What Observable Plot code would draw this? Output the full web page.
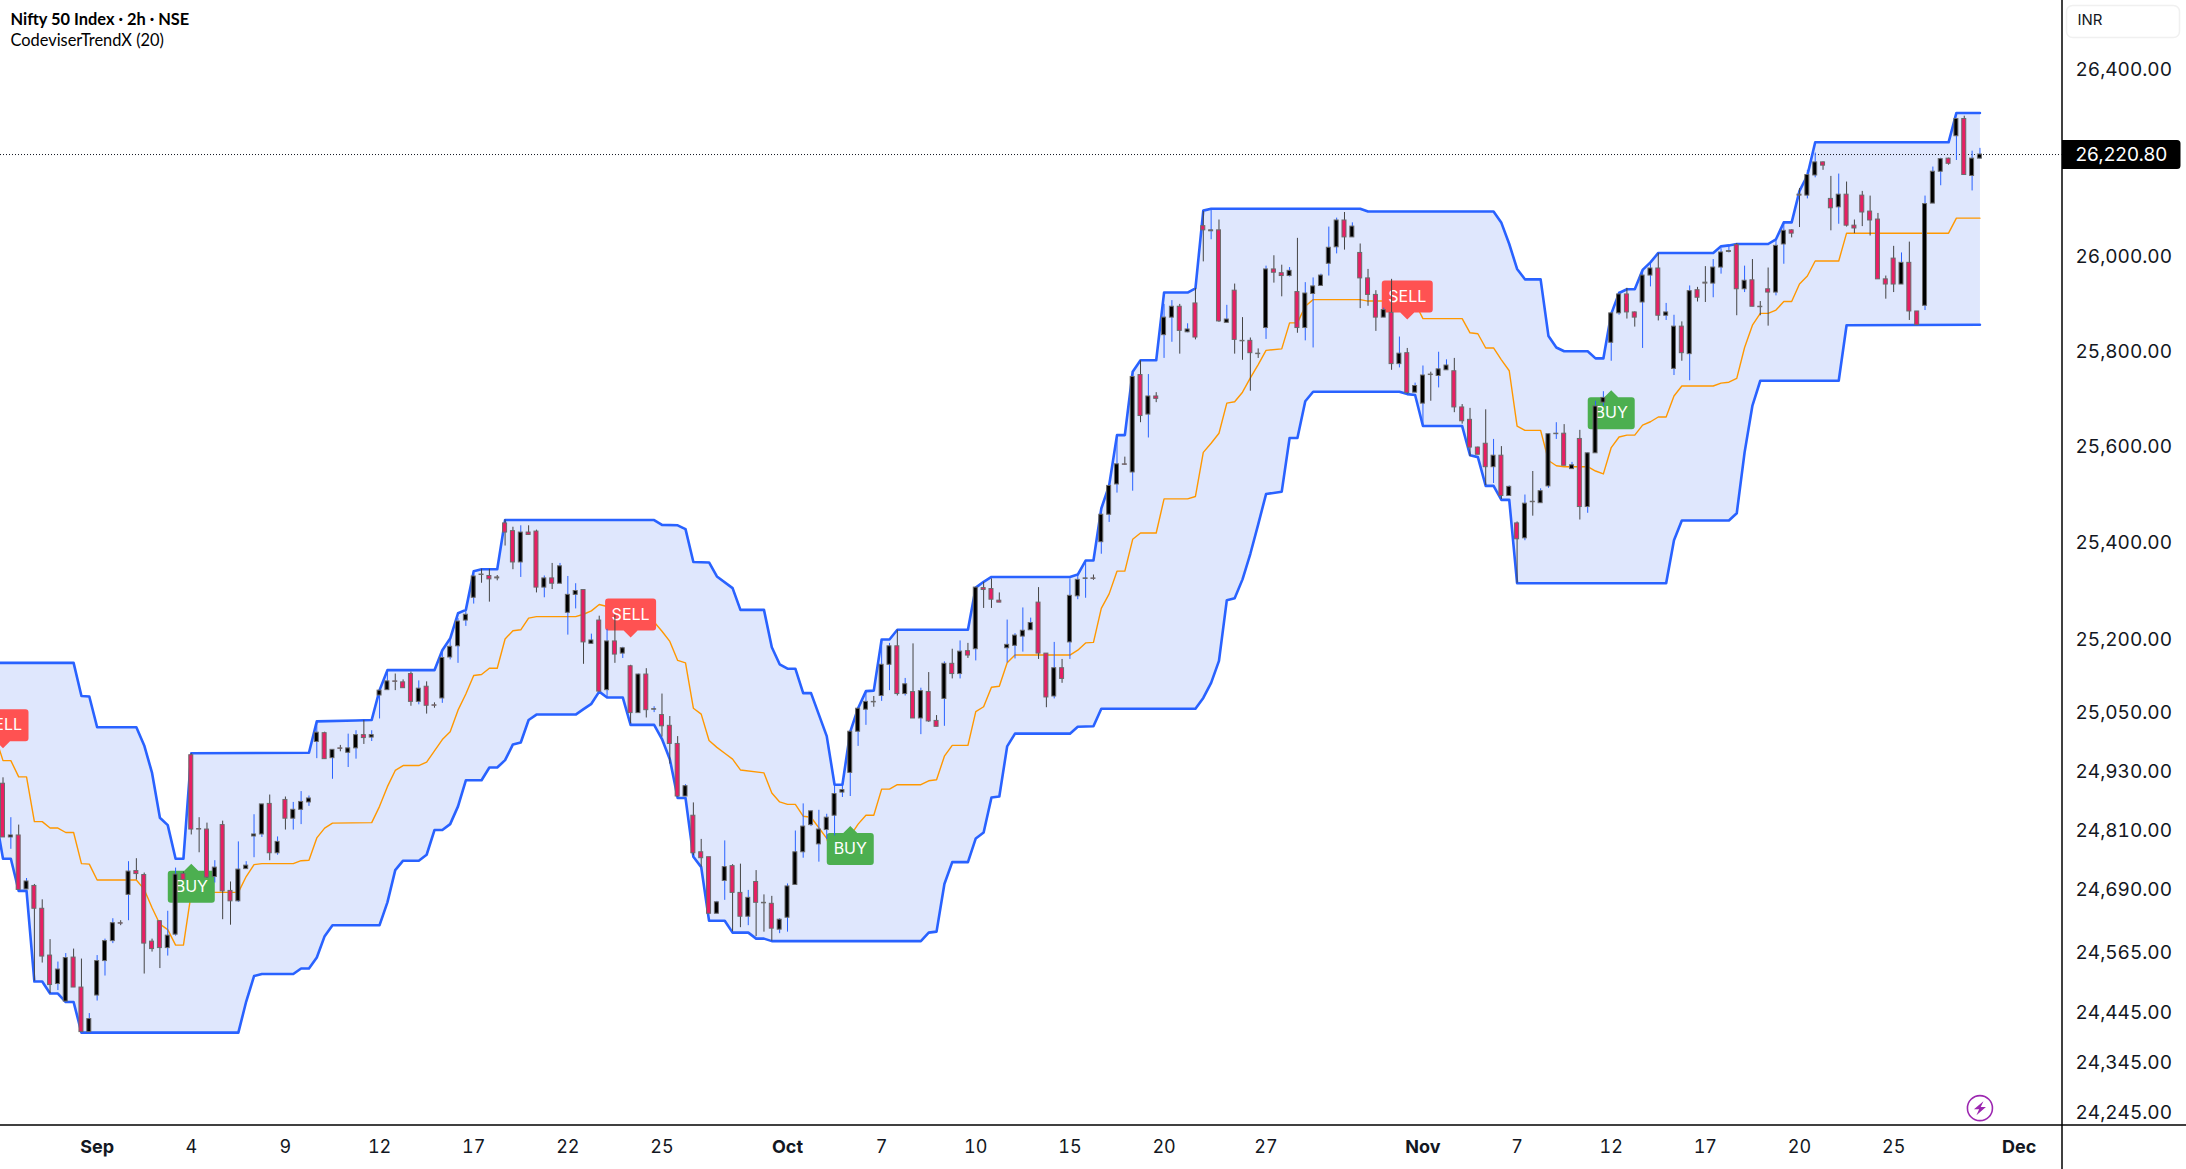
<!DOCTYPE html>
<html>
<head>
<meta charset="utf-8">
<title>Nifty 50 Index</title>
<script src="https://cdn.jsdelivr.net/npm/d3@7"></script>
<script src="https://cdn.jsdelivr.net/npm/@observablehq/plot@0.6"></script>
<style>
html,body{margin:0;padding:0;background:#fff;overflow:hidden}
svg{display:block}
</style>
</head>
<body>
<div id="chart"></div>
<script>
const titleText = "Nifty 50 Index · 2h · NSE";
const subtitleText = "CodeviserTrendX (20)";
const currency = "INR";
const lastPrice = 26220.8;
const priceTicks = [26400,26000,25800,25600,25400,25200,25050,24930,24810,24690,24565,24445,24345,24245];
const monthBars = [12,100,181,257];
const monthLabels = ["Sep","Oct","Nov","Dec"];
const dayBars = [24,36,48,60,72,84,112,124,136,148,161,193,205,217,229,241];
const dayLabels = ["4","9","12","17","22","25","7","10","15","20","27","7","12","17","20","25"];

const open = [
24908,24799,24803,24694,24701,24655,24561,24504,24469,24557,
24497,24408,24481,24550,24590,24626,24683,24731,24723,24589,
24630,24576,24603,24725,24966,24816,24815,24719,24824,24691,
24670,24735,24801,24805,24867,24767,24875,24837,24855,24870,
24993,25011,24960,24980,24971,24980,25007,25002,25088,25099,
25117,25115,25132,25075,25106,25068,25082,25166,25189,25242,
25289,25337,25334,25331,25443,25427,25362,25424,25426,25310,
25329,25318,25258,25295,25305,25194,25242,25099,25199,25174,
25148,25052,25131,25059,25048,25026,24989,24882,24843,24769,
24759,24645,24711,24741,24687,24639,24709,24667,24665,24613,
24637,24703,24769,24824,24785,24814,24843,24890,24930,25014,
25059,25075,25087,25151,25189,25091,25095,25041,25095,25036,
25081,25153,25132,25179,25183,25309,25307,25283,25185,25190,
25209,25222,25279,25174,25086,25144,25197,25292,25328,25329,
25404,25461,25524,25566,25549,25753,25670,25708,25837,25874,
25897,25843,25904,26068,26057,26059,25863,25931,25825,25825,
25798,25852,25976,25968,25962,25928,25852,25924,25941,25988,
26023,26080,26044,26011,25957,25922,25874,25884,25776,25799,
25716,25693,25754,25751,25763,25761,25685,25659,25601,25609,
25560,25584,25500,25443,25412,25488,25485,25520,25629,25630,
25556,25619,25477,25589,25695,25821,25883,25923,25885,25906,
25963,25978,25878,25766,25855,25797,25932,25948,25946,25980,
26013,26028,25934,25953,25897,25934,25927,26029,26059,26135,
26133,26176,26204,26126,26108,26135,26069,26133,26099,26082,
25955,25999,25944,25990,25887,25899,26116,26184,26212,26260,
26297,26175,26212];
const high = [
24920,24839,24824,24716,24704,24673,24593,24548,24565,24574,
24554,24445,24561,24594,24635,24631,24750,24756,24727,24594,
24631,24650,24737,24729,24969,24839,24828,24752,24832,24709,
24790,24750,24845,24866,24885,24800,24881,24870,24892,24883,
25035,25013,24977,24986,25009,25016,25037,25016,25101,25136,
25132,25120,25136,25118,25116,25073,25177,25204,25246,25265,
25337,25348,25348,25335,25450,25435,25438,25438,25429,25334,
25360,25360,25333,25318,25305,25214,25251,25224,25253,25187,
25150,25132,25143,25065,25091,25045,25004,24906,24869,24795,
24759,24670,24792,24744,24745,24692,24732,24683,24680,24635,
24705,24812,24867,24853,24854,24846,24906,24905,25014,25061,
25095,25086,25202,25195,25222,25123,25194,25103,25135,25047,
25157,25183,25200,25195,25310,25321,25328,25299,25243,25215,
25268,25247,25310,25174,25197,25162,25328,25335,25366,25336,
25474,25522,25623,25581,25756,25783,25754,25716,25902,25910,
25902,25861,25936,26099,26103,26081,25900,25945,25874,25831,
25808,25983,26005,25985,25980,26042,25948,25958,25966,26066,
26085,26097,26075,26030,25976,25931,25894,25955,25833,25809,
25736,25772,25759,25801,25785,25788,25691,25683,25602,25680,
25618,25603,25521,25446,25502,25551,25515,25630,25653,25649,
25570,25637,25590,25698,25718,25884,25928,25936,25886,25976,
25989,26010,25904,25879,25865,25941,25938,25982,25997,26020,
26025,26031,25983,25997,25908,25979,26038,26077,26060,26148,
26187,26224,26205,26174,26179,26162,26081,26142,26132,26095,
25962,26025,26011,26034,25887,26132,26194,26213,26213,26297,
26303,26228,26234];
const low = [
24799,24775,24693,24694,24510,24546,24485,24491,24469,24497,
24408,24408,24470,24520,24585,24621,24631,24713,24524,24568,
24535,24560,24600,24713,24804,24768,24716,24707,24633,24622,
24668,24735,24758,24799,24752,24763,24814,24814,24825,24862,
24959,24958,24917,24973,24941,24958,24988,24994,25040,25099,
25098,25103,25066,25069,25050,25062,25072,25161,25154,25230,
25276,25319,25280,25324,25396,25347,25331,25418,25299,25289,
25306,25318,25212,25266,25152,25193,25096,25084,25154,25164,
25030,25052,25042,25053,25003,24948,24881,24882,24762,24739,
24645,24645,24672,24609,24617,24621,24599,24608,24590,24605,
24608,24703,24757,24821,24749,24795,24802,24880,24882,24984,
25027,25064,25076,25098,25087,25087,25041,25008,25033,25024,
25025,25122,25122,25164,25159,25267,25267,25279,25155,25163,
25177,25222,25162,25063,25081,25113,25162,25285,25288,25325,
25379,25445,25506,25564,25510,25653,25621,25695,25788,25822,
25797,25842,25827,25992,26039,25864,25863,25797,25784,25719,
25788,25828,25947,25918,25960,25841,25825,25810,25941,25962,
26009,26017,26044,25893,25898,25845,25874,25763,25768,25713,
25716,25646,25698,25726,25763,25674,25650,25582,25586,25522,
25526,25493,25500,25319,25407,25458,25485,25516,25618,25563,
25556,25450,25464,25589,25687,25782,25879,25871,25854,25809,
25939,25867,25868,25752,25782,25741,25907,25906,25916,25966,
26011,25878,25927,25897,25878,25856,25920,25987,26043,26065,
26126,26171,26187,26058,26072,26066,26052,26067,26047,25955,
25913,25927,25944,25868,25858,25889,26116,26154,26198,26208,
26177,26143,26211];
const close = [
24799,24803,24693,24710,24655,24559,24502,24533,24556,24497,
24408,24434,24550,24590,24626,24625,24730,24725,24585,24574,
24576,24601,24724,24713,24815,24815,24718,24738,24690,24670,
24734,24742,24805,24866,24767,24790,24837,24855,24871,24878,
25012,24958,24977,24979,24980,25007,25001,25007,25098,25117,
25116,25103,25075,25102,25067,25067,25165,25188,25240,25254,
25333,25336,25327,25329,25424,25362,25424,25419,25310,25329,
25318,25354,25295,25303,25197,25201,25096,25199,25172,25185,
25052,25131,25058,25060,25025,24989,24882,24903,24767,24757,
24645,24668,24739,24687,24639,24677,24667,24666,24615,24633,
24700,24769,24821,24852,24815,24839,24887,24895,25014,25061,
25075,25074,25151,25189,25091,25111,25041,25097,25035,25024,
25153,25132,25178,25170,25310,25305,25285,25279,25192,25211,
25221,25237,25174,25084,25144,25122,25293,25326,25329,25328,
25461,25521,25566,25565,25749,25667,25708,25703,25874,25897,
25846,25849,25832,26059,26059,25866,25870,25827,25824,25799,
25797,25976,25969,25962,25973,25852,25925,25940,25963,26022,
26080,26044,26067,25957,25922,25874,25890,25776,25798,25715,
25730,25752,25753,25765,25773,25685,25656,25601,25586,25560,
25584,25500,25519,25410,25484,25487,25510,25629,25630,25563,
25564,25477,25589,25687,25705,25883,25923,25885,25874,25963,
25978,25878,25885,25855,25799,25930,25916,25946,25980,26012,
26015,25934,25952,25897,25896,25927,26026,26058,26052,26133,
26177,26204,26197,26106,26135,26069,26063,26097,26080,25955,
25944,25944,25990,25887,25858,26115,26184,26211,26201,26297,
26177,26212,26220.8];

const upperBars = [-1,9,10,11,12,17,18,19,20,21,22,23,24,39,40,45,47,48,49,55,56,57,58,59,60,61,63,64,83,84,86,87,88,90,91,93,94,97,98,99,100,101,102,103,105,106,107,108,109,110,111,112,113,114,123,124,125,126,136,137,138,139,140,141,142,143,144,145,147,148,151,152,153,154,173,174,190,191,192,193,194,196,197,198,199,202,203,204,205,206,207,208,209,210,211,218,219,220,221,225,226,227,228,229,230,231,248,249,252];
const upperValues = [25155,25155,25087,25086,25023,25023,24986,24930,24839,24824,24756,24756,24970,24971,25035,25037,25038,25099,25140,25140,25181,25205,25257,25264,25344,25348,25348,25450,25450,25440,25439,25431,25363,25362,25333,25309,25264,25264,25187,25152,25143,25143,25093,25093,25005,24906,24906,25014,25062,25097,25098,25203,25203,25223,25223,25310,25322,25332,25332,25337,25366,25366,25474,25522,25627,25627,25760,25784,25784,25927,25927,25936,26101,26105,26105,26099,26099,26075,26030,25977,25955,25955,25835,25811,25803,25803,25788,25788,25882,25926,25934,25934,25975,25991,26011,26011,26025,26027,26030,26030,26040,26076,26076,26143,26176,26247,26247,26310,26310];

const lowerBars = [-1,0,1,2,3,4,5,6,7,8,9,10,30,31,32,33,37,38,39,40,41,42,48,49,50,51,53,54,55,56,57,58,59,61,62,63,64,65,66,67,68,73,74,75,76,77,79,80,83,84,85,86,87,88,89,90,92,93,95,96,97,98,117,118,119,120,121,123,124,125,126,127,128,129,136,137,139,140,152,153,154,155,156,157,158,159,160,161,163,164,165,166,167,178,179,180,181,186,187,188,189,190,191,192,193,212,213,214,220,221,222,223,224,234,235,252];
const lowerValues = [24847,24756,24756,24691,24691,24509,24509,24485,24485,24468,24468,24407,24407,24469,24520,24524,24524,24535,24535,24557,24600,24622,24622,24668,24733,24752,24752,24764,24814,24814,24826,24862,24915,24915,24941,24941,24956,24988,24992,25038,25049,25049,25060,25071,25096,25084,25084,25028,25028,24999,24958,24879,24879,24760,24739,24631,24631,24607,24607,24595,24595,24590,24590,24607,24609,24705,24749,24749,24797,24809,24880,24882,24984,25010,25010,25024,25025,25061,25061,25083,25114,25159,25284,25288,25327,25380,25441,25504,25509,25621,25621,25698,25718,25718,25713,25711,25646,25646,25585,25581,25521,25521,25492,25492,25319,25319,25408,25449,25449,25464,25591,25689,25741,25741,25858,25859];

const midBars = [-1,0,1,2,3,4,5,6,7,8,9,10,11,12,17,18,19,20,21,22,23,24,25,30,31,32,33,37,38,39,40,41,42,47,48,49,50,51,53,54,55,56,57,58,59,60,61,62,63,64,65,66,67,68,73,74,75,76,77,79,80,83,84,85,86,87,88,89,90,91,92,93,94,97,98,99,100,101,102,103,105,106,107,108,109,110,111,112,113,114,117,118,119,120,121,123,124,125,126,127,128,129,136,137,138,139,140,141,142,143,144,145,147,148,151,152,153,154,155,156,157,158,159,160,161,163,164,165,166,167,173,174,178,179,180,181,186,187,188,189,190,191,192,193,194,196,197,198,199,202,203,204,205,206,207,208,209,210,211,212,213,214,218,219,220,221,222,223,224,225,226,227,228,229,230,231,234,235,248,249,252];
const midValues = [25005,24955,24955,24922,24922,24831,24831,24818,24818,24809,24809,24746,24745,24713,24713,24694,24657,24624,24613,24582,24582,24687,24688,24688,24720,24744,24746,24746,24752,24753,24798,24818,24828,24829,24862,24902,24935,24945,24945,24952,24975,24998,25014,25058,25091,25129,25131,25144,25144,25204,25221,25223,25247,25250,25250,25255,25262,25275,25271,25271,25239,25239,25220,25199,25160,25155,25062,25050,24996,24982,24970,24958,24936,24930,24889,24871,24866,24866,24842,24840,24797,24748,24748,24802,24826,24844,24844,24897,24897,24906,24906,24914,24916,24964,24986,24986,25055,25065,25105,25107,25155,25171,25171,25181,25196,25197,25267,25297,25344,25344,25410,25423,25423,25494,25494,25499,25591,25610,25631,25694,25697,25717,25747,25775,25805,25808,25863,25863,25898,25912,25912,25909,25909,25906,25905,25872,25872,25842,25840,25810,25810,25785,25762,25646,25637,25637,25574,25563,25561,25561,25552,25546,25601,25623,25627,25627,25648,25655,25665,25665,25709,25730,25730,25736,25738,25746,25811,25858,25883,25883,25890,25908,25908,25945,25962,25994,25994,26053,26053,26085,26085];

const sellBars = [0,80,179];
const sellPrices = [24980,25207,25870];
const buyBars = [24,108,205];
const buyPrices = [24746,24822,25721];
const iconBar = 252;
const iconPrice = 24257;

const candles = open.map((o,i)=>({bar:i,open:o,high:high[i],low:low[i],close:close[i],up:close[i]>=o}));
const knots = (bars,values)=>bars.map((b,i)=>({bar:b,value:values[i]}));
const upperLine = knots(upperBars,upperValues);
const lowerLine = knots(lowerBars,lowerValues);
const midLine = knots(midBars,midValues);
const bandPolygon = upperLine.concat(lowerLine.slice().reverse());

const roundRect=(c,x0,y0,x1,y1,r)=>{
  c.moveTo(x0+r,y0);c.lineTo(x1-r,y0);c.arcTo(x1,y0,x1,y0+r,r);
  c.lineTo(x1,y1-r);c.arcTo(x1,y1,x1-r,y1,r);
  c.lineTo(x0+r,y1);c.arcTo(x0,y1,x0,y1-r,r);
  c.lineTo(x0,y0+r);c.arcTo(x0,y0,x0+r,y0,r);c.closePath();
};
const sellSymbol={draw(c){
  c.moveTo(-22.5,-39);c.lineTo(22.5,-39);c.arcTo(25.5,-39,25.5,-36,3);
  c.lineTo(25.5,-10);c.arcTo(25.5,-7,22.5,-7,3);
  c.lineTo(7,-7);c.lineTo(0,0);c.lineTo(-7,-7);
  c.lineTo(-22.5,-7);c.arcTo(-25.5,-7,-25.5,-10,3);
  c.lineTo(-25.5,-36);c.arcTo(-25.5,-39,-22.5,-39,3);c.closePath();
}};
const buySymbol={draw(c){
  c.moveTo(-20.5,39);c.lineTo(20.5,39);c.arcTo(23.5,39,23.5,36,3);
  c.lineTo(23.5,10);c.arcTo(23.5,7,20.5,7,3);
  c.lineTo(7,7);c.lineTo(0,0);c.lineTo(-7,7);
  c.lineTo(-20.5,7);c.arcTo(-23.5,7,-23.5,10,3);
  c.lineTo(-23.5,36);c.arcTo(-23.5,39,-20.5,39,3);c.closePath();
}};
const priceBoxSymbol={draw(c){
  c.moveTo(0,-14.5);c.lineTo(115,-14.5);c.arcTo(118.5,-14.5,118.5,-11,3.5);
  c.lineTo(118.5,11);c.arcTo(118.5,14.5,115,14.5,3.5);c.lineTo(0,14.5);c.closePath();
}};
const inrSymbol={draw(c){roundRect(c,0,0,113,32,6);}};
const boltSymbol={draw(c){
  c.moveTo(3.5,-7);c.lineTo(-6,1.2);c.lineTo(-0.8,1.2);c.lineTo(-3.5,7);c.lineTo(6,-1.2);c.lineTo(0.8,-1.2);c.closePath();
}};

const sellData=sellBars.map((b,i)=>({bar:b,price:sellPrices[i]}));
const buyData=buyBars.map((b,i)=>({bar:b,price:buyPrices[i]}));
const axisEnd=262.46, pageEnd=278.4, pageTop=26553, pageBottom=24136, timeAxisPrice=24223.6;

const chart = Plot.plot({
  width:2186,height:1169,
  marginLeft:0,marginRight:124.5,marginTop:0,marginBottom:44.5,
  style:{fontFamily:"Inter, Roboto, sans-serif",background:"#fff",color:"#131722"},
  x:{type:"linear",domain:[-0.3187,axisEnd],range:[0,2061.5]},
  y:{type:"log",domain:[24245,26400],range:[1113.7,70.6]},
  marks:[
    Plot.line(bandPolygon,{x:"bar",y:"value",fill:"#dfe7fd",stroke:"none"}),
    Plot.ruleY([lastPrice],{x1:-0.3187,x2:axisEnd,stroke:"#131722",strokeWidth:1,strokeDasharray:"1 2"}),
    Plot.line(midLine,{x:"bar",y:"value",stroke:"#ff9800",strokeWidth:1.4,strokeLinejoin:"round"}),
    Plot.line(upperLine,{x:"bar",y:"value",stroke:"#2962ff",strokeWidth:2.6,strokeLinejoin:"round"}),
    Plot.line(lowerLine,{x:"bar",y:"value",stroke:"#2962ff",strokeWidth:2.6,strokeLinejoin:"round"}),
    Plot.dot(sellData,{x:"bar",y:"price",symbol:sellSymbol,fill:"#ff5252",r:1}),
    Plot.dot(buyData,{x:"bar",y:"price",symbol:buySymbol,fill:"#4caf50",r:1}),
    Plot.text(sellData,{x:"bar",y:"price",text:()=>"SELL",fill:"#fff",fontSize:16,dy:-23}),
    Plot.text(buyData,{x:"bar",y:"price",text:()=>"BUY",fill:"#fff",fontSize:16,dy:23}),
    Plot.ruleX(candles,{x:"bar",y1:"low",y2:"high",stroke:d=>d.up?"#2962ff":"#444",strokeWidth:1}),
    Plot.rect(candles,{x1:d=>d.bar-0.255,x2:d=>d.bar+0.255,y1:"open",y2:"close",fill:d=>d.up?"#000":"#e91e63",stroke:"#6b6b6b",strokeWidth:1}),
    Plot.axisY({anchor:"right",ticks:priceTicks,tickFormat:d3.format(",.2f"),tickSize:0,tickPadding:13.5,fontSize:19,label:null,dy:-1,fill:"#131722"}),
    Plot.dot([lastPrice],{x:()=>axisEnd,y:d=>d,symbol:priceBoxSymbol,fill:"#000",r:1}),
    Plot.text([lastPrice],{x:()=>axisEnd,y:d=>d,text:d=>d3.format(",.2f")(d),dx:13.5,textAnchor:"start",fill:"#fff",fontSize:19}),
    Plot.ruleX([axisEnd],{y1:pageBottom,y2:pageTop,stroke:"#000",strokeWidth:1.5}),
    Plot.ruleY([timeAxisPrice],{x1:-0.3187,x2:pageEnd,stroke:"#000",strokeWidth:1.5}),
    Plot.axisX({anchor:"bottom",ticks:monthBars,tickFormat:d=>monthLabels[monthBars.indexOf(d)],tickSize:0,tickPadding:15,fontSize:18,fontWeight:700,label:null,fill:"#131722"}),
    Plot.axisX({anchor:"bottom",ticks:dayBars,tickFormat:d=>dayLabels[dayBars.indexOf(d)],tickSize:0,tickPadding:15,fontSize:18,label:null,fill:"#131722"}),
    Plot.text([titleText],{frameAnchor:"top-left",dx:10,dy:13,textAnchor:"start",fontFamily:"Lato",fontWeight:700,fontSize:16.4,fill:"#000"}),
    Plot.text([subtitleText],{frameAnchor:"top-left",dx:10,dy:34,textAnchor:"start",fontFamily:"Lato",fontSize:16.4,fill:"#000"}),
    Plot.dot([currency],{frameAnchor:"top-left",dx:2066,dy:5,symbol:inrSymbol,fill:"#fff",stroke:"#f0f0f0",r:1}),
    Plot.text([currency],{frameAnchor:"top-left",dx:2077,dy:14,textAnchor:"start",fontSize:15,fill:"#131722"}),
    Plot.dot([iconPrice],{x:()=>iconBar,y:d=>d,r:12.5,fill:"#fff",stroke:"#9c27b0",strokeWidth:1.6}),
    Plot.dot([iconPrice],{x:()=>iconBar,y:d=>d,symbol:boltSymbol,fill:"#9c27b0",r:1})
  ]
});
document.getElementById("chart").append(chart);
</script>
</body>
</html>
